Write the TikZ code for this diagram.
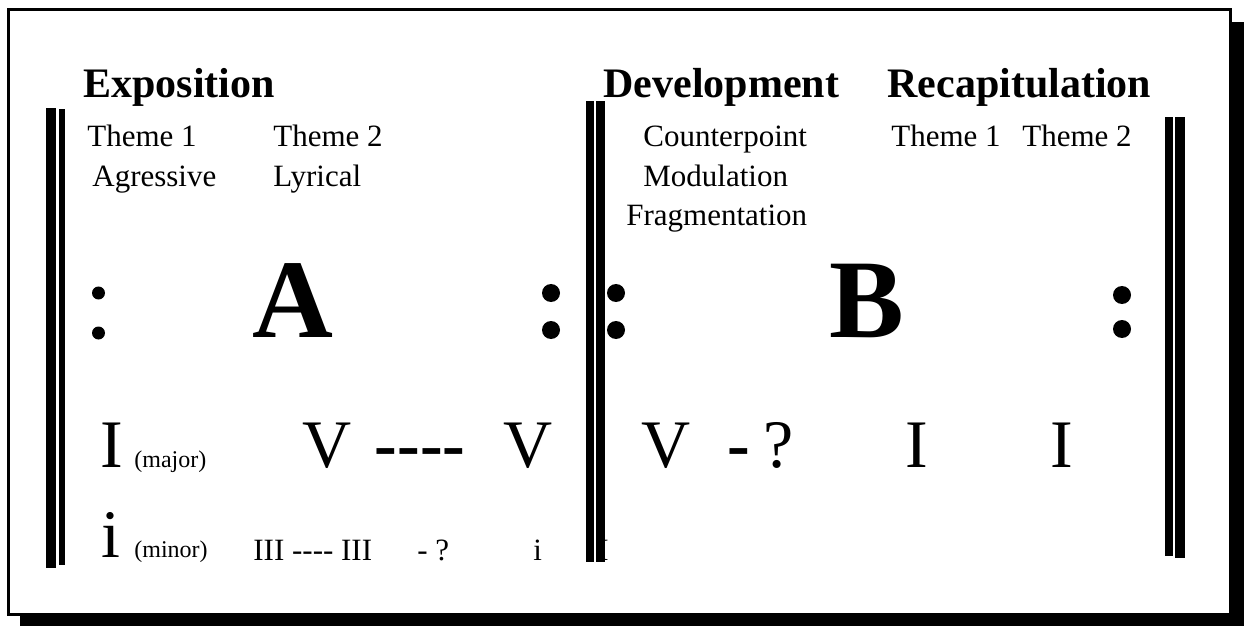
\documentclass[tikz,border=0pt]{standalone}
\usepackage{fontspec}
\setmainfont{Liberation Serif}
\usetikzlibrary{positioning}

\begin{document}
\begin{tikzpicture}[
  x=0.5pt,y=-0.5pt,
  head/.style={font=\fontsize{21}{25}\selectfont\bfseries, inner sep=0, anchor=base west},
  note/.style={font=\fontsize{15.5}{18}\selectfont, inner sep=0, anchor=base west},
  part/.style={font=\fontsize{56}{60}\selectfont\bfseries, inner sep=0, anchor=base},
  chord/.style={font=\fontsize{34}{40}\selectfont, inner sep=0, anchor=base},
  boldchord/.style={font=\fontsize{34}{40}\selectfont\bfseries, inner sep=0, anchor=base},
  small/.style={font=\fontsize{12}{14}\selectfont, inner sep=0, anchor=base west},
  barline/.style={fill=black}
]
\useasboundingbox (0,0) rectangle (1244,626);
% frame with shadow
\fill (20,22) rectangle (1244,626);
\draw[line width=1.5pt, fill=white] (8.5,10) rectangle (1230.5,614.5);

% headings
\node[head] (expo) at (83,98) {Exposition};
\node[head] (dev) at (603,98) {Development};
\node[head] (recap) at (887,98) {Recapitulation};

\node[note] (themeA) at (87,147) {Theme 1};
\node[note] (themeB) at (273,147) {Theme 2};
\node[note] (aggr) at (92,187) {Agressive};
\node[note] (lyric) at (273,187) {Lyrical};
\node[note] (cpt) at (643,147) {Counterpoint};
\node[note] (modul) at (643,187) {Modulation};
\node[note] (frag) at (626,226) {Fragmentation};
\node[note] (rthemeA) at (891,147) {Theme 1};
\node[note] (rthemeB) at (1022,147) {Theme 2};

% sections
\node[part] (partA) at (293,337) {A};
\node[part] (partB) at (867,337) {B};

% keys, major
\node[chord, anchor=base west] (tonic) at (100,467) {I};
\node[small] (major) at (134,467) {(major)};
\node[chord] (domA) at (327,467) {V};
\node[boldchord] (link) at (420,467) {-{}-{}-{}-};
\node[chord] (domB) at (528,467) {V};
\node[chord] (domC) at (666,467) {V};
\node[boldchord] (hyph) at (739,467) {-};
\node[chord] (query) at (779,467) {?};
\node[chord] (tonicB) at (917,467) {I};
\node[chord] (tonicC) at (1062,467) {I};

% keys, minor
\node[chord, anchor=base west] (mtonic) at (101,557) {i};
\node[small] (minor) at (134,557) {(minor)};
\node[note] (rel) at (253,560) {III -{}-{}-{}- III};
\node[note] (mquery) at (417,560) {- ?};
\node[note] (mtonicB) at (533,560) {i};
\node[note] (hidden) at (598,560) {I};

% bar lines
\fill[barline] (46,108) rectangle (56,568);
\fill[barline] (59,109) rectangle (65,565);
\fill[barline] (586,101) rectangle (594,562);
\fill[barline] (596,101) rectangle (605,562);
\fill[barline] (1165,117) rectangle (1173,556);
\fill[barline] (1175,117) rectangle (1185,558);

% repeat dots
\fill (98.5,293) circle (3.25pt);
\fill (98.5,333) circle (3.25pt);
\foreach \dx/\dy in {551/293, 551/330, 616/293, 616/330, 1122/295, 1122/329}
  \fill (\dx,\dy) circle (4.5pt);
\end{tikzpicture}
\end{document}
